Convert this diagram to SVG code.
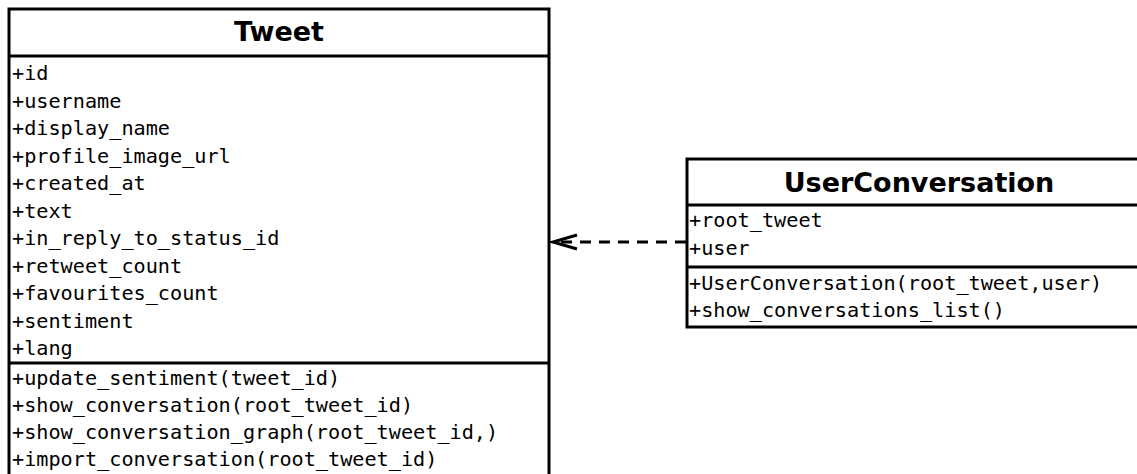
<svg xmlns="http://www.w3.org/2000/svg" width="1137" height="474" viewBox="0 0 1137 474">
<style>
.box{fill:#fff;stroke:#000;stroke-width:3}
.div{stroke:#000;stroke-width:3}
.title{font-family:"DejaVu Sans",sans-serif;font-weight:bold;font-size:27px;text-anchor:middle;fill:#000}
.m{font-family:"DejaVu Sans Mono",monospace;font-size:20.2px;fill:#000}
.conn{fill:none;stroke:#000;stroke-width:3}
</style>
<rect width="1137" height="474" fill="#fff"/>
<g id="Tweet">
<rect class="box" x="9" y="9" width="540" height="480"/>
<line class="div" x1="9" y1="56" x2="549" y2="56"/>
<line class="div" x1="9" y1="363" x2="549" y2="363"/>
<text class="title" x="279" y="41">Tweet</text>
<text class="m" x="12" y="80">+id</text>
<text class="m" x="12" y="107.5">+username</text>
<text class="m" x="12" y="135">+display_name</text>
<text class="m" x="12" y="162.5">+profile_image_url</text>
<text class="m" x="12" y="190">+created_at</text>
<text class="m" x="12" y="217.5">+text</text>
<text class="m" x="12" y="245">+in_reply_to_status_id</text>
<text class="m" x="12" y="272.5">+retweet_count</text>
<text class="m" x="12" y="300">+favourites_count</text>
<text class="m" x="12" y="327.5">+sentiment</text>
<text class="m" x="12" y="355">+lang</text>
<text class="m" x="12" y="385">+update_sentiment(tweet_id)</text>
<text class="m" x="12" y="412">+show_conversation(root_tweet_id)</text>
<text class="m" x="12" y="439">+show_conversation_graph(root_tweet_id,)</text>
<text class="m" x="12" y="466">+import_conversation(root_tweet_id)</text>
</g>
<g id="UserConversation">
<rect class="box" x="687" y="159" width="464" height="168"/>
<line class="div" x1="687" y1="205" x2="1151" y2="205"/>
<line class="div" x1="687" y1="267" x2="1151" y2="267"/>
<text class="title" x="919" y="192">UserConversation</text>
<text class="m" x="689" y="227">+root_tweet</text>
<text class="m" x="689" y="255">+user</text>
<text class="m" x="689" y="290">+UserConversation(root_tweet,user)</text>
<text class="m" x="689" y="317">+show_conversations_list()</text>
</g>
<g id="connectors">
<line class="conn" x1="686" y1="242" x2="555" y2="242" stroke-dasharray="11 8"/>
<polyline class="conn" points="577,235 553,242 577,249"/>
</g>
</svg>
